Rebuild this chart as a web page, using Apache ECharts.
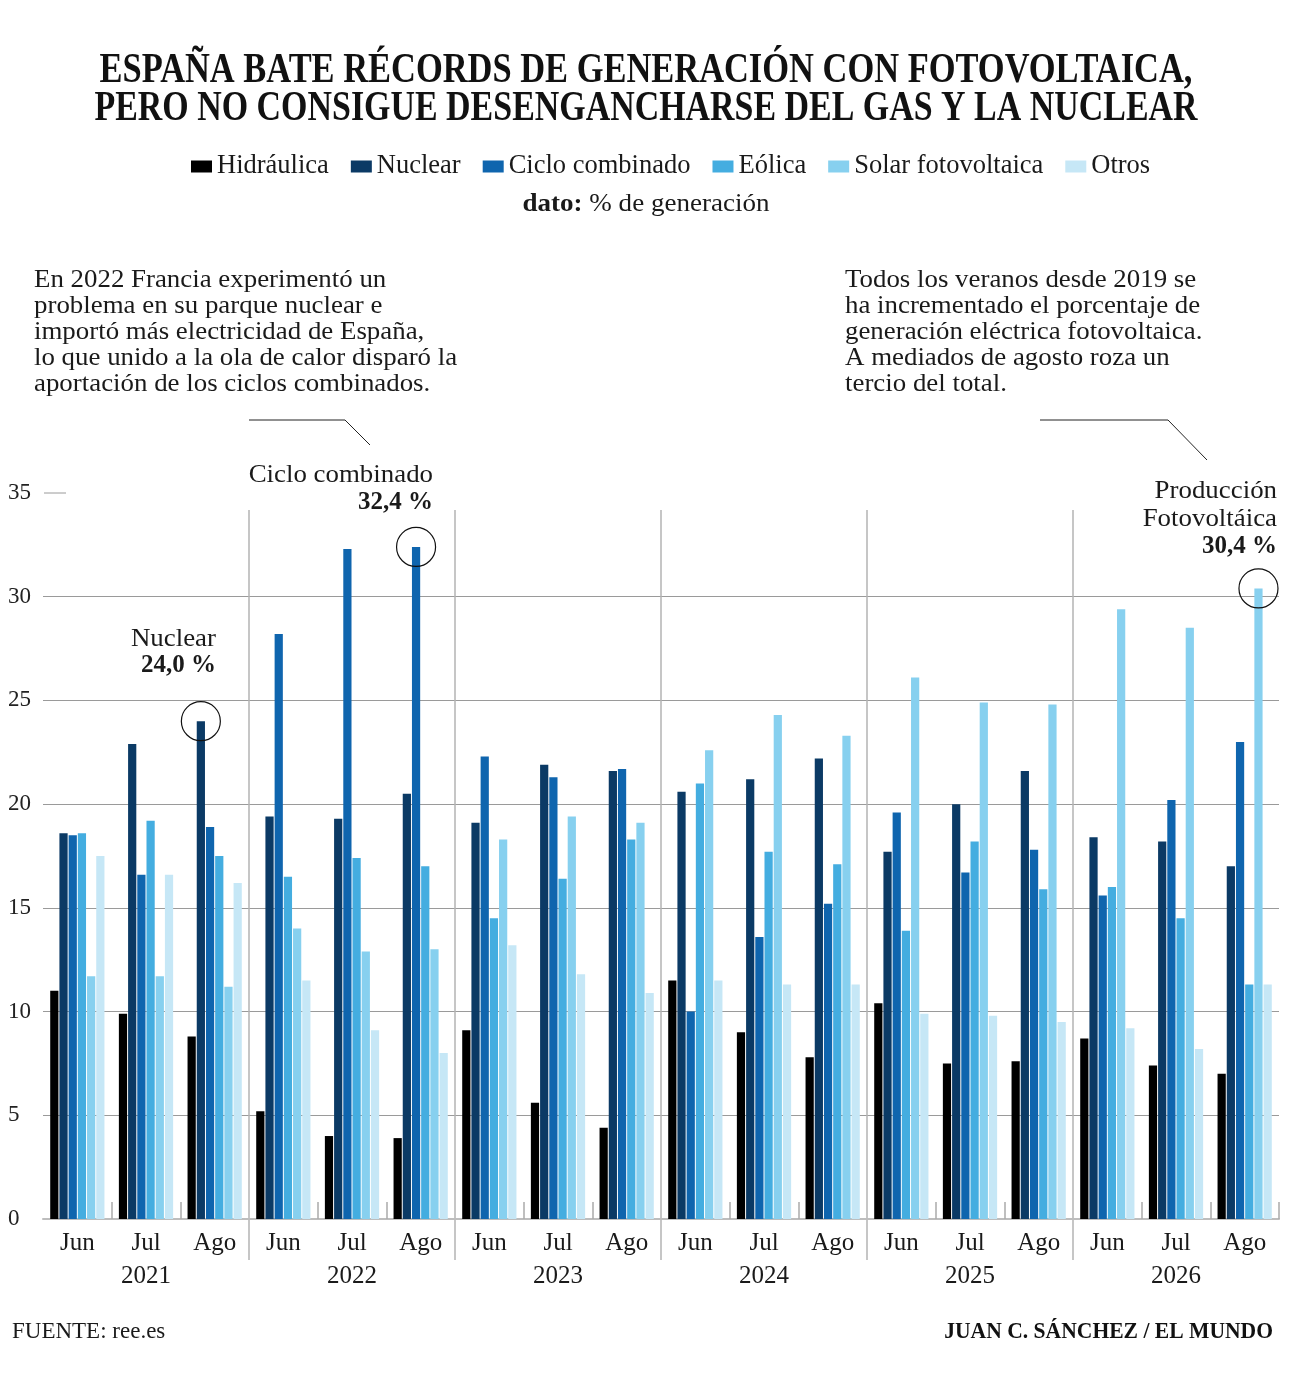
<!DOCTYPE html>
<html>
<head>
<meta charset="utf-8">
<script src="https://cdn.jsdelivr.net/npm/echarts@6/dist/echarts.min.js"></script>
<style>
  html, body { margin: 0; padding: 0; background: #fff; }
  #chart { width: 1292px; height: 1376px; }
</style>
</head>
<body>
<div id="chart"></div>
<script>
  // datos: % de generación, meses de verano 2021-2026
  const months = ['Jun', 'Jul', 'Ago']
  const years = ['2021', '2022', '2023', '2024', '2025', '2026']
  const yTicks = [0, 5, 10, 15, 20, 25, 30, 35]

  const hidraulica = [11.0, 9.9, 8.8, 5.2, 4.0, 3.9, 9.1, 5.6, 4.4, 11.5, 9.0, 7.8, 10.4, 7.5, 7.6, 8.7, 7.4, 7.0]
  const nuclear = [18.6, 22.9, 24.0, 19.4, 19.3, 20.5, 19.1, 21.9, 21.6, 20.6, 21.2, 22.2, 17.7, 20.0, 21.6, 18.4, 18.2, 17.0]
  const ciclo = [18.5, 16.6, 18.9, 28.2, 32.3, 32.4, 22.3, 21.3, 21.7, 10.0, 13.6, 15.2, 19.6, 16.7, 17.8, 15.6, 20.2, 23.0]
  const eolica = [18.6, 19.2, 17.5, 16.5, 17.4, 17.0, 14.5, 16.4, 18.3, 21.0, 17.7, 17.1, 13.9, 18.2, 15.9, 16.0, 14.5, 11.3]
  const solar = [11.7, 11.7, 11.2, 14.0, 12.9, 13.0, 18.3, 19.4, 19.1, 22.6, 24.3, 23.3, 26.1, 24.9, 24.8, 29.4, 28.5, 30.4]
  const otros = [17.5, 16.6, 16.2, 11.5, 9.1, 8.0, 13.2, 11.8, 10.9, 11.5, 11.3, 11.3, 9.9, 9.8, 9.5, 9.2, 8.2, 11.3]

  const categories = []
  years.forEach(y => months.forEach(m => categories.push(m + ' ' + y)))

  const FONT = '"Liberation Serif", "Times New Roman", serif'
  const colors = ['#000000', '#0b3a65', '#0f65ae', '#44ade0', '#87d0ef', '#c6e7f6']
  const WIDE = 1.075 // el texto original es algo más ancho que Liberation Serif

  const myChart = echarts.init(document.getElementById('chart'), null, {renderer: 'canvas'})

  const circle = (idx, value) => ({
    coord: [idx, value],
    symbol: 'circle',
    symbolSize: 39,
    itemStyle: {color: 'rgba(0,0,0,0)', borderColor: '#111', borderWidth: 1.2},
    label: {show: false}
  })

  const barSeries = (name, data, i, mark) => ({
    name: name,
    type: 'bar',
    data: data,
    barGap: '12%',
    barCategoryGap: '21%',
    itemStyle: {color: colors[i]},
    emphasis: {disabled: true},
    markPoint: mark ? {silent: true, animation: false, data: [mark]} : undefined
  })

  myChart.setOption({
    animation: false,
    color: colors,
    textStyle: {fontFamily: FONT},
    legend: {
      top: 148,
      left: 186,
      icon: 'rect',
      itemWidth: 21,
      itemHeight: 12,
      itemGap: 22,
      textStyle: {fontFamily: FONT, fontSize: 26.5, color: '#1a1a1a'},
      data: ['Hidráulica', 'Nuclear', 'Ciclo combinado', 'Eólica', 'Solar fotovoltaica', 'Otros']
    },
    grid: {left: 43, right: 13, top: 493, bottom: 157, containLabel: false},
    xAxis: {
      type: 'category',
      data: categories,
      axisLine: {lineStyle: {color: '#bdbdbd', width: 2}},
      axisTick: {
        show: true,
        inside: true,
        length: 17,
        interval: (i) => i % 3 !== 0,
        lineStyle: {color: '#aaaaaa', width: 1.5}
      },
      axisLabel: {
        interval: 0,
        margin: 8,
        fontFamily: FONT,
        fontSize: 25,
        color: '#1a1a1a',
        lineHeight: 33,
        formatter: (v, i) => {
          const parts = v.split(' ')
          return i % 3 === 1 ? parts[0] + '\n' + parts[1] : parts[0]
        }
      }
    },
    yAxis: {
      type: 'value',
      min: 0,
      max: 35,
      interval: 5,
      axisLine: {show: false},
      axisTick: {show: false},
      axisLabel: {
        align: 'left',
        margin: 35,
        fontFamily: FONT,
        fontSize: 23,
        color: '#222',
        formatter: (v) => yTicks.indexOf(v) >= 0 ? String(v) : ''
      },
      splitLine: {
        show: true,
        lineStyle: {
          color: ['#9a9a9a', '#9a9a9a', '#9a9a9a', '#9a9a9a', '#9a9a9a', '#9a9a9a', '#9a9a9a', 'rgba(0,0,0,0)'],
          width: 1
        }
      }
    },
    series: [
      barSeries('Hidráulica', hidraulica, 0),
      barSeries('Nuclear', nuclear, 1, circle(2, nuclear[2])),
      barSeries('Ciclo combinado', ciclo, 2, circle(5, ciclo[5])),
      barSeries('Eólica', eolica, 3),
      barSeries('Solar fotovoltaica', solar, 4, circle(17, solar[17])),
      barSeries('Otros', otros, 5)
    ]
  })

  // separadores de año y textos
  const px = (i) => myChart.convertToPixel({xAxisIndex: 0}, categories[i])
  const py = (v) => myChart.convertToPixel({yAxisIndex: 0}, v)
  const graphics = []
  for (let k = 1; k < years.length; k++) {
    const x = Math.round((px(3 * k - 1) + px(3 * k)) / 2)
    graphics.push({type: 'line', shape: {x1: x, y1: 510, x2: x, y2: 1260}, style: {stroke: '#b3b3b3', lineWidth: 1.5}, silent: true})
  }
  graphics.push({type: 'line', shape: {x1: 44, y1: py(35), x2: 66, y2: py(35)}, style: {stroke: '#9a9a9a', lineWidth: 1}})

  const txt = (text, x, y, opts, sx) => ({
    type: 'text', x: x, y: y, silent: true, scaleX: sx || 1,
    style: Object.assign({text: text, fill: '#1a1a1a', fontFamily: FONT, fontSize: 25, textAlign: 'left', textVerticalAlign: 'middle'}, opts || {})
  })
  const pct = (v) => v.toFixed(1).replace('.', ',') + ' %'

  // título
  graphics.push(txt('ESPAÑA BATE RÉCORDS DE GENERACIÓN CON FOTOVOLTAICA,', 646, 71,
    {fontSize: 42, fontWeight: 'bold', fill: '#111', textAlign: 'center'}, 0.82))
  graphics.push(txt('PERO NO CONSIGUE DESENGANCHARSE DEL GAS Y LA NUCLEAR', 646, 109,
    {fontSize: 42, fontWeight: 'bold', fill: '#111', textAlign: 'center'}, 0.808))
  graphics.push({
    type: 'text', x: 646, y: 204, silent: true, scaleX: 1.04,
    style: {
      text: '{b|dato:} % de generación',
      fontFamily: FONT, fontSize: 26, fill: '#1a1a1a', textAlign: 'center', textVerticalAlign: 'middle',
      rich: {b: {fontFamily: FONT, fontSize: 26, fontWeight: 'bold', fill: '#1a1a1a'}}
    }
  })

  // notas
  graphics.push(txt('En 2022 Francia experimentó un\nproblema en su parque nuclear e\nimportó más electricidad de España,\nlo que unido a la ola de calor disparó la\naportación de los ciclos combinados.',
    34, 267, {textVerticalAlign: 'top', lineHeight: 26}, WIDE))
  graphics.push(txt('Todos los veranos desde 2019 se\nha incrementado el porcentaje de\ngeneración eléctrica fotovoltaica.\nA mediados de agosto roza un\ntercio del total.',
    845, 267, {textVerticalAlign: 'top', lineHeight: 26}, WIDE))
  graphics.push({type: 'polyline', shape: {points: [[249, 420], [345, 420], [370, 445]]}, style: {stroke: '#222', lineWidth: 1, fill: null}})
  graphics.push({type: 'polyline', shape: {points: [[1040, 420], [1168, 420], [1207, 460]]}, style: {stroke: '#222', lineWidth: 1, fill: null}})

  // etiquetas de los valores destacados
  graphics.push(txt('Ciclo combinado', 433, 475, {textAlign: 'right'}, WIDE))
  graphics.push(txt(pct(ciclo[5]), 433, 503, {textAlign: 'right', fontWeight: 'bold'}))
  graphics.push(txt('Nuclear', 216, 639, {textAlign: 'right'}, WIDE))
  graphics.push(txt(pct(nuclear[2]), 216, 666, {textAlign: 'right', fontWeight: 'bold'}))
  graphics.push(txt('Producción', 1277, 491, {textAlign: 'right'}, WIDE))
  graphics.push(txt('Fotovoltáica', 1277, 519, {textAlign: 'right'}, WIDE))
  graphics.push(txt(pct(solar[17]), 1277, 547, {textAlign: 'right', fontWeight: 'bold'}))

  // pie
  graphics.push(txt('FUENTE: ree.es', 12, 1332, {fontSize: 23}))
  graphics.push(txt('JUAN C. SÁNCHEZ / EL MUNDO', 1273, 1332,
    {fontSize: 24, fontWeight: 'bold', fill: '#111', textAlign: 'right'}, 0.9))

  myChart.setOption({graphic: {elements: graphics}})
</script>
</body>
</html>
